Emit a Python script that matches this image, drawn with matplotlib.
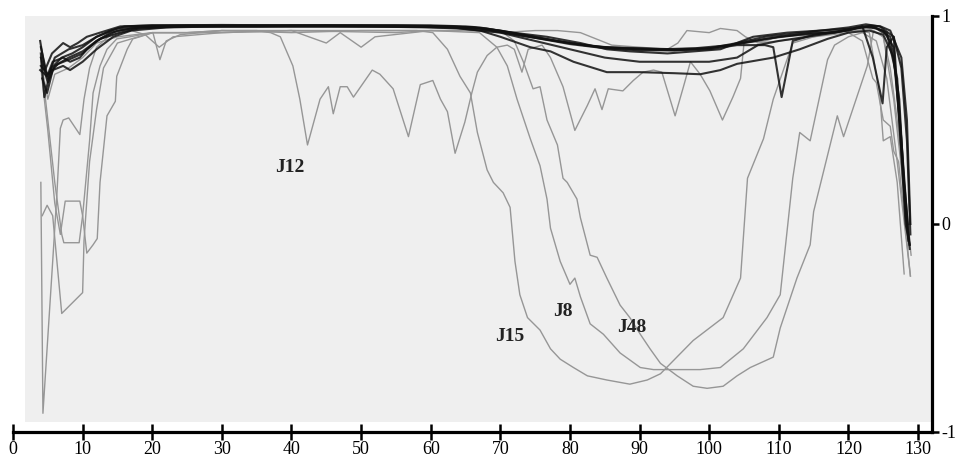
import matplotlib
matplotlib.use('Agg')
from matplotlib import pyplot as plt
from matplotlib.patches import Rectangle

plt.rcParams['font.family'] = ['Liberation Serif', 'DejaVu Serif']

# dark traces (the tight band near the top)
d1_x = [3.9, 4.6, 5.6, 7.2, 8.2, 9.3, 10.6, 12.5, 15.4, 20, 30, 40, 50, 60, 65, 67, 71.8, 76.7, 81.5, 85.3, 88.6, 94, 101.6, 106.3, 111.2, 116, 120.7, 123, 124.6, 126, 127.6, 128.4, 128.9]
d1_y = [0.88, 0.74, 0.82, 0.87, 0.85, 0.87, 0.9, 0.92, 0.95, 0.955, 0.957, 0.955, 0.956, 0.955, 0.95, 0.945, 0.92, 0.9, 0.87, 0.84, 0.83, 0.82, 0.84, 0.9, 0.92, 0.93, 0.94, 0.955, 0.95, 0.93, 0.8, 0.5, 0.0]
d2_x = [3.9, 4.9, 5.7, 7.2, 8.2, 9.6, 10.6, 12.5, 15.4, 18, 25, 35, 45, 55, 62, 67, 72, 77, 82, 86, 90, 95, 100, 104, 108, 112, 116, 120, 122.5, 124.5, 126.5, 127.6, 128.4, 128.9]
d2_y = [0.74, 0.71, 0.78, 0.8, 0.78, 0.8, 0.84, 0.89, 0.92, 0.94, 0.95, 0.95, 0.955, 0.95, 0.945, 0.94, 0.91, 0.885, 0.86, 0.845, 0.84, 0.835, 0.845, 0.87, 0.9, 0.915, 0.93, 0.945, 0.96, 0.95, 0.9, 0.75, 0.4, -0.05]
d3_x = [4.2, 4.9, 5.7, 7.2, 8.2, 10, 12, 14.4, 17, 22, 30, 40, 50, 60, 66, 70, 75, 80, 85, 90, 95, 100, 105, 110, 115, 118, 121, 123.5, 125.5, 127, 128, 128.8]
d3_y = [0.7, 0.63, 0.74, 0.76, 0.74, 0.78, 0.84, 0.9, 0.93, 0.945, 0.95, 0.95, 0.95, 0.95, 0.945, 0.93, 0.9, 0.87, 0.85, 0.845, 0.84, 0.845, 0.87, 0.9, 0.92, 0.92, 0.94, 0.95, 0.92, 0.7, 0.2, -0.1]
d4_x = [4, 4.5, 5.5, 7, 8.5, 10, 12, 14, 16, 20, 30, 40, 50, 60, 66, 70, 75, 80, 85, 90, 95, 100, 104, 108, 109.2, 110.4, 112, 115, 119, 122, 124, 126, 127.3, 128.2, 128.8]
d4_y = [0.82, 0.61, 0.75, 0.8, 0.82, 0.85, 0.9, 0.93, 0.95, 0.955, 0.952, 0.955, 0.95, 0.952, 0.945, 0.925, 0.895, 0.865, 0.845, 0.835, 0.835, 0.84, 0.86, 0.86, 0.85, 0.61, 0.88, 0.91, 0.93, 0.95, 0.94, 0.9, 0.6, 0.05, -0.12]
d5_x = [4, 5, 6.5, 8, 10, 12, 14, 17, 20, 30, 40, 50, 60, 64, 67.1, 70, 74.3, 77.2, 80.5, 85.3, 90, 95, 98.7, 101.6, 104, 109.2, 113, 117, 120, 123, 125, 126.5, 127.5, 128.5]
d5_y = [0.76, 0.72, 0.77, 0.79, 0.82, 0.88, 0.92, 0.94, 0.95, 0.95, 0.95, 0.95, 0.945, 0.94, 0.93, 0.9, 0.85, 0.83, 0.78, 0.73, 0.73, 0.725, 0.72, 0.74, 0.77, 0.8, 0.84, 0.89, 0.92, 0.93, 0.91, 0.8, 0.45, 0.0]
d6_x = [4, 5, 6, 8, 10, 12, 15, 18, 25, 35, 45, 55, 63, 70, 75, 80, 85, 90, 95, 100, 104, 107, 110, 114, 118, 121, 123, 125, 126.5, 127.5, 128.6]
d6_y = [0.8, 0.68, 0.76, 0.8, 0.83, 0.88, 0.93, 0.945, 0.95, 0.95, 0.95, 0.95, 0.945, 0.92, 0.88, 0.84, 0.8, 0.78, 0.78, 0.78, 0.8, 0.86, 0.88, 0.9, 0.92, 0.94, 0.95, 0.93, 0.85, 0.4, -0.08]
d7_x = [4, 5, 6, 8, 10, 12, 15, 18, 25, 35, 45, 55, 63, 68, 73, 78, 83, 88, 93, 98, 103, 108, 113, 117, 120, 122, 123.5, 124.9, 125.5, 126.5, 127.3, 128.2, 128.8]
d7_y = [0.85, 0.7, 0.8, 0.84, 0.86, 0.9, 0.94, 0.95, 0.955, 0.955, 0.955, 0.955, 0.95, 0.94, 0.91, 0.88, 0.855, 0.845, 0.84, 0.845, 0.86, 0.89, 0.91, 0.92, 0.93, 0.95, 0.8, 0.58, 0.85, 0.9, 0.5, 0.0, -0.1]

# grey traces
j12_x = [4, 5, 6, 8, 10, 12, 15, 20, 25, 30, 35, 37, 38.4, 40.2, 41.2, 42.3, 44.1, 45.3, 46, 47, 48, 48.9, 51.6, 52.7, 54.6, 56.8, 58.5, 60.3, 61.4, 62.4, 63.5, 64.9, 65.9, 66.7, 68.1, 69.5, 71, 72, 73.1, 74, 76, 77.2, 79, 80.7, 82.5, 83.6, 84.6, 85.5, 87.6, 89.1, 90.5, 92, 93.2, 95.1, 96.3, 97.3, 98.7, 100.1, 101.9, 103.4, 104.5, 105, 108, 110, 115, 118, 121, 123, 125, 126.5, 127.5, 128.5]
j12_y = [0.78, 0.6, 0.72, 0.75, 0.8, 0.87, 0.9, 0.92, 0.92, 0.93, 0.93, 0.92, 0.9, 0.76, 0.6, 0.38, 0.6, 0.66, 0.53, 0.66, 0.66, 0.61, 0.74, 0.72, 0.65, 0.42, 0.67, 0.69, 0.6, 0.54, 0.34, 0.49, 0.63, 0.73, 0.81, 0.85, 0.86, 0.84, 0.73, 0.84, 0.86, 0.8, 0.66, 0.45, 0.57, 0.65, 0.55, 0.65, 0.64, 0.69, 0.73, 0.74, 0.73, 0.52, 0.66, 0.78, 0.72, 0.64, 0.5, 0.61, 0.7, 0.87, 0.88, 0.9, 0.91, 0.92, 0.93, 0.94, 0.9, 0.6, 0.3, -0.05]
j15_x = [4.2, 4.9, 5.7, 7.0, 10.0, 10.2, 11, 12, 13, 15, 18, 20, 25, 30, 40, 50, 55, 58, 60.3, 62.4, 64.2, 65.7, 66.7, 68.1, 69, 70.4, 71.4, 72.1, 72.8, 73.9, 75.7, 77.2, 78.6, 80.5, 82.5, 85.3, 88.6, 91.1, 93, 97.7, 102, 104.5, 105.5, 107.8, 109.2, 112, 115, 118, 121, 123, 124.5, 125, 126, 127, 128]
j15_y = [0.04, 0.09, 0.04, -0.43, -0.33, -0.08, 0.3, 0.55, 0.75, 0.87, 0.9, 0.92, 0.92, 0.93, 0.93, 0.93, 0.93, 0.93, 0.92, 0.84, 0.71, 0.63, 0.44, 0.26, 0.2, 0.15, 0.08, -0.18, -0.34, -0.45, -0.51, -0.6, -0.65, -0.69, -0.73, -0.75, -0.77, -0.75, -0.72, -0.56, -0.45, -0.26, 0.22, 0.41, 0.6, 0.87, 0.9, 0.92, 0.93, 0.92, 0.62, 0.4, 0.42, 0.2, -0.24]
j8_x = [4, 5, 6, 6.8, 7.5, 9.6, 10.0, 10.6, 11.5, 12.1, 12.5, 13.5, 14.7, 14.9, 16.4, 17.2, 18.2, 20.1, 21.1, 22, 24, 30, 40, 50, 60, 67, 69.5, 71, 72.4, 74.3, 75.7, 76.7, 77.2, 78.6, 80, 80.7, 81.5, 82.9, 84.8, 87.2, 90.1, 92, 94.8, 98.7, 101.6, 104.9, 108.3, 110.2, 112, 113, 114.5, 117, 118, 120, 122, 124, 125.5, 127, 128.9]
j8_y = [0.75, 0.45, 0.1, -0.05, 0.11, 0.11, 0.04, -0.14, -0.1, -0.07, 0.2, 0.52, 0.59, 0.71, 0.84, 0.89, 0.9, 0.92, 0.79, 0.88, 0.91, 0.93, 0.92, 0.93, 0.93, 0.92, 0.85, 0.76, 0.6, 0.41, 0.28, 0.12, -0.02, -0.18, -0.29, -0.26, -0.35, -0.48, -0.53, -0.62, -0.69, -0.7, -0.7, -0.7, -0.69, -0.6, -0.45, -0.34, 0.22, 0.44, 0.4, 0.79, 0.86, 0.9, 0.92, 0.88, 0.7, 0.3, -0.25]
j48_x = [4, 5, 6, 7, 7.3, 9.5, 10, 11, 11.5, 12.5, 13.5, 14.9, 16.8, 20, 30, 40, 45, 47, 50, 52, 60, 70, 72, 73.3, 74.7, 75.7, 76.7, 78.2, 79, 79.6, 81, 81.5, 82.9, 83.9, 85.3, 87.2, 88.6, 90.1, 91.5, 93, 95.4, 97.7, 99.7, 102, 104, 105.9, 109.2, 110.2, 112.6, 114.5, 115, 118.4, 119.3, 122.7, 123.6, 125, 126, 127, 128.5, 129]
j48_y = [0.8, 0.5, 0.2, -0.05, -0.09, -0.09, 0.04, 0.4, 0.63, 0.76, 0.84, 0.89, 0.9, 0.92, 0.92, 0.93, 0.87, 0.92, 0.85, 0.9, 0.93, 0.93, 0.88, 0.78, 0.65, 0.66, 0.5, 0.38, 0.22, 0.2, 0.12, 0.03, -0.15, -0.16, -0.26, -0.39, -0.45, -0.53, -0.6, -0.67, -0.73, -0.78, -0.79, -0.78, -0.73, -0.69, -0.64, -0.5, -0.26, -0.1, 0.06, 0.52, 0.42, 0.76, 0.93, 0.9, 0.75, 0.5, 0.0, -0.15]
g1_x = [4.0, 4.3, 5.7, 6.3, 6.8, 7.2, 8.0, 9.6, 10.2, 11, 12, 14, 17, 19, 21, 23, 30, 40, 55, 60, 65, 70, 75, 78.2, 81.5, 83, 86, 90, 94, 95.5, 96.8, 100, 101.6, 104, 105.2, 107, 110, 115, 120, 122, 123.5, 124, 125, 126, 126.5, 127.2, 128.9]
g1_y = [0.2, -0.91, -0.18, 0.14, 0.46, 0.5, 0.51, 0.43, 0.6, 0.75, 0.85, 0.91, 0.93, 0.91, 0.85, 0.9, 0.92, 0.93, 0.92, 0.93, 0.93, 0.92, 0.93, 0.93, 0.92, 0.9, 0.86, 0.85, 0.84, 0.87, 0.93, 0.92, 0.94, 0.93, 0.9, 0.87, 0.88, 0.9, 0.92, 0.88, 0.7, 0.68, 0.5, 0.47, 0.35, 0.3, -0.25]

dark = [(d1_x, d1_y), (d2_x, d2_y), (d3_x, d3_y), (d4_x, d4_y), (d5_x, d5_y), (d6_x, d6_y), (d7_x, d7_y)]
grey = [(j12_x, j12_y), (j15_x, j15_y), (j8_x, j8_y), (j48_x, j48_y), (g1_x, g1_y)]

labels = ['J12', 'J15', 'J8', 'J48']
label_x = [39.8, 71.4, 79.0, 88.9]
label_y = [0.27, -0.54, -0.42, -0.50]

fig = plt.figure(figsize=(9.62, 4.59), dpi=100)
ax = fig.add_axes([13 / 962, 1 - 432 / 459, 919 / 962, 416 / 459])

# scanned grey panel behind the traces
ax.add_patch(Rectangle((1.7, -0.95), 130.3, 1.95, facecolor='#efefef', edgecolor='none', zorder=0))

for xs, ys in grey:
    ax.plot(xs, ys, color='#969696', lw=1.0, zorder=2)
for xs, ys in dark:
    ax.plot(xs, ys, color='#111111', lw=1.5, alpha=0.85, zorder=3)

for lab, lx, ly in zip(labels, label_x, label_y):
    ax.text(lx, ly, lab, ha='center', va='center', fontsize=14, fontweight='bold', color='#222222', zorder=4)

ax.set_xlim(0, 132)
ax.set_ylim(-1, 1)
ax.spines['top'].set_visible(False)
ax.spines['left'].set_visible(False)
ax.spines['bottom'].set_linewidth(2.3)
ax.spines['right'].set_linewidth(2.3)

ax.set_xticks(range(0, 131, 10))
ax.tick_params(axis='x', direction='inout', length=11, width=1.8, labelsize=13, pad=1)
ax.yaxis.tick_right()
ax.set_yticks([-1, 0, 1])
ax.set_yticklabels(['-1', '0', '1'])
ax.tick_params(axis='y', direction='out', length=5, width=1.8, labelsize=13, pad=2)

fig.savefig('out.png', dpi=100)
